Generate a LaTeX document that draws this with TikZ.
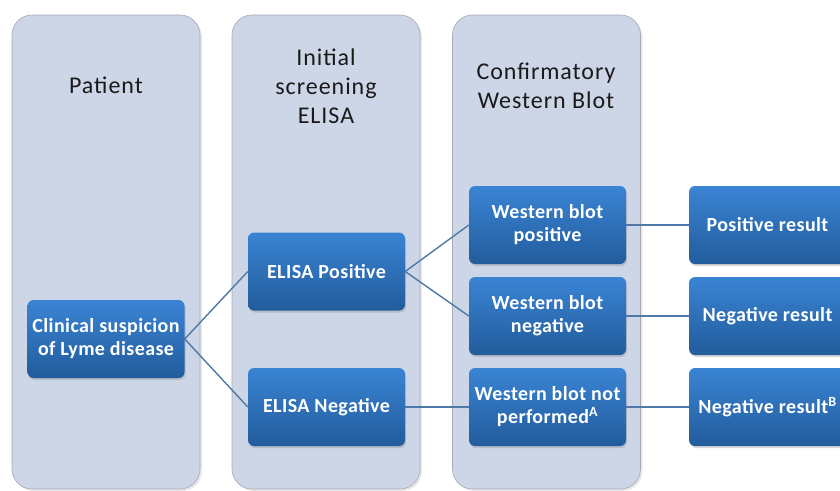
\documentclass[tikz,border=0pt]{standalone}
\usepackage{fontspec}
\setmainfont{Carlito}
\usetikzlibrary{shadows}
\definecolor{lanefill}{HTML}{CDD6E6}
\definecolor{laneedge}{HTML}{A3ABB7}
\definecolor{boxtop}{HTML}{3A84D4}
\definecolor{boxbot}{HTML}{225C9C}
\definecolor{linkcol}{HTML}{4E79A7}
\definecolor{titlecol}{HTML}{1A1A1A}
\tikzset{
  lane/.style={draw=laneedge, line width=0.6pt, fill=lanefill, rounded corners=20pt,
    minimum width=188pt, minimum height=474pt, inner sep=0pt,
    drop shadow={opacity=0.18, shadow xshift=2pt, shadow yshift=-2pt}},
  lanetitle/.style={font=\fontsize{24}{29}\selectfont\addfontfeatures{LetterSpace=4}, text=titlecol, align=center},
  stepbox/.style={rounded corners=6pt, top color=boxtop, bottom color=boxbot,
    minimum width=157pt, minimum height=78pt, inner sep=1pt, align=center,
    text=white, font=\bfseries\fontsize{20}{23}\selectfont\addfontfeatures{LetterSpace=2},
    drop shadow={opacity=0.3, shadow xshift=1pt, shadow yshift=-2pt}},
  link/.style={draw=linkcol, line width=1.4pt}
}
\begin{document}
\begin{tikzpicture}[x=1pt,y=-1pt]
\useasboundingbox (0,0) rectangle (840,490);
\clip (0,0) rectangle (840,490);
\fill[white] (0,0) rectangle (840,490);

% swim lanes
\node[lane] (laneA) at (106,252) {};
\node[lane] (laneB) at (326,252) {};
\node[lane] (laneC) at (546.5,252) {};
\node[lanetitle] (titleA) at (106,85) {Patient};
\node[lanetitle] (titleB) at (326,86) {Initial\\screening\\ELISA};
\node[lanetitle] (titleC) at (546,86) {Confirmatory\\Western Blot};

% process boxes
\node[stepbox] (clin) at (106,339) {Clinical suspicion\\of Lyme disease};
\node[stepbox] (epos) at (326.5,271.5) {ELISA Positive};
\node[stepbox] (eneg) at (326.5,407) {ELISA Negative};
\node[stepbox] (wpos) at (547.5,225) {Western blot\\positive};
\node[stepbox] (wneg) at (547.5,316) {Western blot\\negative};
\node[stepbox] (wnot) at (547.5,407) {Western blot not\\performed\textsuperscript{A}};
\node[stepbox] (rpos) at (767.5,225) {Positive result};
\node[stepbox] (rneg) at (767.5,316) {Negative result};
\node[stepbox] (rnot) at (767.5,407) {Negative result\textsuperscript{B}};

% connectors
\draw[link] (clin.east) -- (epos.west);
\draw[link] (clin.east) -- (eneg.west);
\draw[link] (epos.east) -- (wpos.west);
\draw[link] (epos.east) -- (wneg.west);
\draw[link] (eneg.east) -- (wnot.west);
\draw[link] (wpos.east) -- (rpos.west);
\draw[link] (wneg.east) -- (rneg.west);
\draw[link] (wnot.east) -- (rnot.west);
\end{tikzpicture}
\end{document}
